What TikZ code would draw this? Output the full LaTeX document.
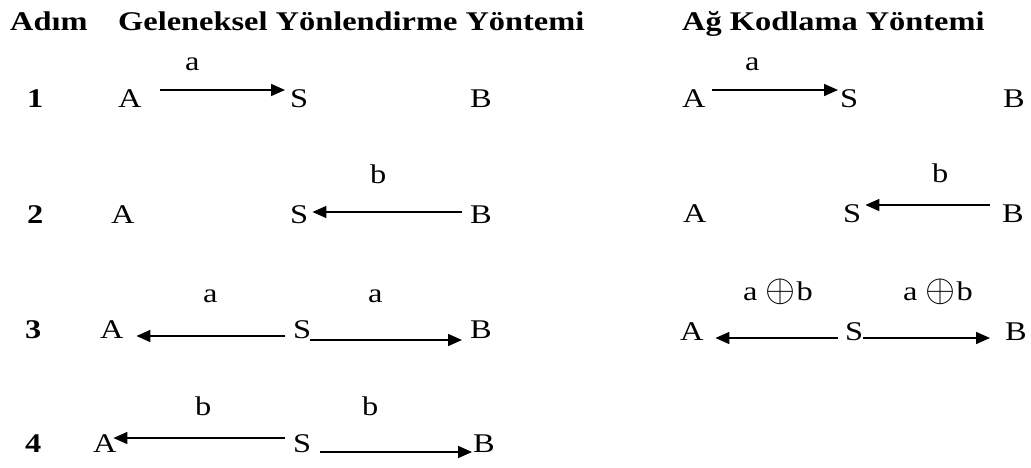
\documentclass[tikz,border=0pt]{standalone}
\usepackage{graphicx}
\usepackage{fontspec}
\setmainfont[FakeStretch=1.2]{Liberation Serif}
\usetikzlibrary{arrows.meta}
\newcommand{\xorsign}{\raisebox{-1pt}{\scalebox{1.55}{$\oplus$}}}
\begin{document}
\begin{tikzpicture}[x=1pt,y=-1pt,
  txt/.style={inner sep=0pt,anchor=base west,font=\fontsize{27}{31}\selectfont},
  hdr/.style={txt,font=\fontsize{27}{31}\selectfont\bfseries},
  arr/.style={line width=1.6pt,-{Triangle[length=14pt,width=12pt]}}]
\useasboundingbox (0,0) rectangle (1031,467);

% column headings
\node[hdr] (hAdim) at (10,30) {Adım};
\node[hdr] (hGel) at (118,30) {Geleneksel Yönlendirme Yöntemi};
\node[hdr] (hAg) at (682,30) {Ağ Kodlama Yöntemi};

% step numbers
\node[hdr] (n1) at (27,107) {1};
\node[hdr] (n2) at (27,223) {2};
\node[hdr] (n3) at (25,338) {3};
\node[hdr] (n4) at (25,452) {4};

% ---- traditional routing ----
% step 1
\node[txt] (A1) at (118,107) {A};
\node[txt] (S1) at (290,107) {S};
\node[txt] (B1) at (470,107) {B};
\node[txt] (la1) at (185,70) {a};
\draw[arr] ([shift={(18.6,-17)}]A1.base east) -- ([shift={(-5,-17)}]S1.base west);
% step 2
\node[txt] (A2) at (111,223) {A};
\node[txt] (S2) at (290,223) {S};
\node[txt] (B2) at (470,223) {B};
\node[txt] (lb2) at (370,183) {b};
\draw[arr] ([shift={(-8,-11)}]B2.base west) -- ([shift={(4,-11)}]S2.base east);
% step 3
\node[txt] (A3) at (100,338) {A};
\node[txt] (S3) at (293,338) {S};
\node[txt] (B3) at (470,338) {B};
\node[txt] (la3l) at (203,302) {a};
\node[txt] (la3r) at (368,302) {a};
\draw[arr] ([shift={(-8,-2)}]S3.base west) -- ([shift={(12.6,-2)}]A3.base east);
\draw[arr] ([shift={(-1,2)}]S3.base east) -- ([shift={(-8,2)}]B3.base west);
% step 4
\node[txt] (A4) at (93,452) {A};
\node[txt] (S4) at (293,452) {S};
\node[txt] (B4) at (473,452) {B};
\node[txt] (lb4l) at (195,415) {b};
\node[txt] (lb4r) at (362,415) {b};
\draw[arr] ([shift={(-8,-14)}]S4.base west) -- ([shift={(-3.4,-14)}]A4.base east);
\draw[arr] ([shift={(9,0)}]S4.base east) -- ([shift={(-1,0)}]B4.base west);

% ---- network coding ----
% step 1
\node[txt] (A1r) at (682,107) {A};
\node[txt] (S1r) at (840,107) {S};
\node[txt] (B1r) at (1003,107) {B};
\node[txt] (la1r) at (745,70) {a};
\draw[arr] ([shift={(6.6,-17)}]A1r.base east) -- ([shift={(-2,-17)}]S1r.base west);
% step 2
\node[txt] (A2r) at (683,222) {A};
\node[txt] (S2r) at (843,222) {S};
\node[txt] (B2r) at (1002,222) {B};
\node[txt] (lb2r) at (932,182) {b};
\draw[arr] ([shift={(-12,-17)}]B2r.base west) -- ([shift={(4,-17)}]S2r.base east);
% step 3
\node[txt] (A3r) at (680,340) {A};
\node[txt] (S3r) at (845,340) {S};
\node[txt] (B3r) at (1005,340) {B};
\node[txt] (lx3l) at (743,300) {a\hspace{8pt}\xorsign\kern1pt b};
\node[txt] (lx3r) at (903,300) {a\hspace{8pt}\xorsign\kern1pt b};
\draw[arr] ([shift={(-7,-2)}]S3r.base west) -- ([shift={(11.6,-2)}]A3r.base east);
\draw[arr] ([shift={(0,-2)}]S3r.base east) -- ([shift={(-15,-2)}]B3r.base west);
\end{tikzpicture}
\end{document}
